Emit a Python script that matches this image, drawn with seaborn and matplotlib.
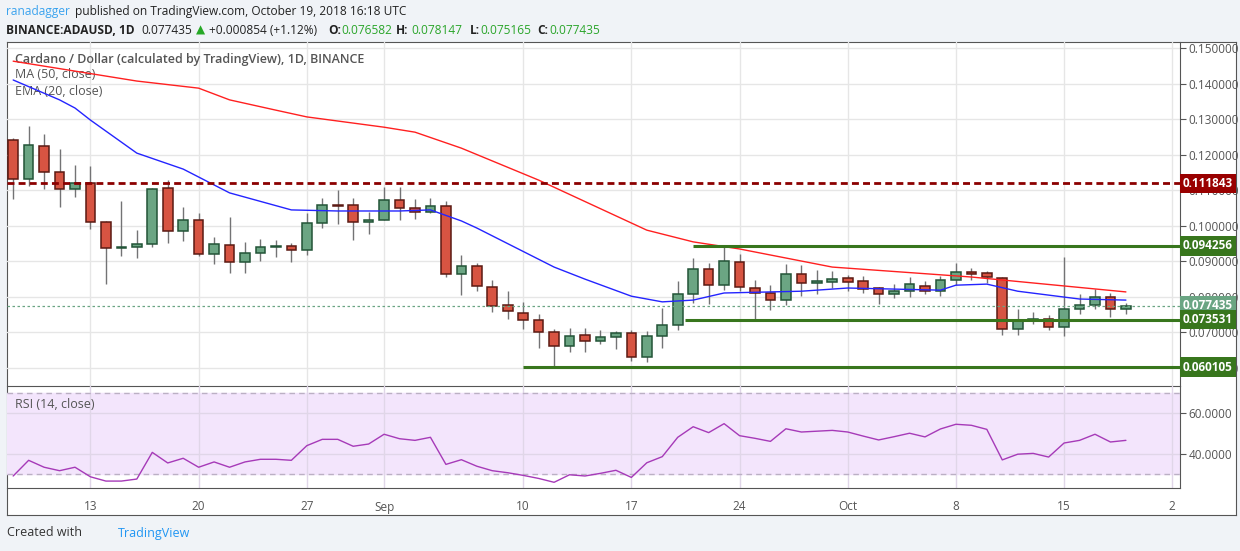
import numpy as np
import pandas as pd
import matplotlib
matplotlib.use("Agg")
import matplotlib.pyplot as plt
from matplotlib.patches import Rectangle
import seaborn as sns

# ---- data (ADAUSD daily, Aug 8 - Oct 19 2018) ----
opens = [0.1240, 0.1130, 0.1223, 0.1150, 0.1102, 0.1119, 0.1009, 0.0937, 0.0939, 0.0947,
         0.1105, 0.0984, 0.1015, 0.0919, 0.0944, 0.0896, 0.0922, 0.0939, 0.0942, 0.0930,
         0.1006, 0.1057, 0.1057, 0.1009, 0.1017, 0.1071, 0.1048, 0.1037, 0.1054, 0.0863,
         0.0885, 0.0826, 0.0775, 0.0755, 0.0733, 0.0699, 0.0660, 0.0693, 0.0674, 0.0685,
         0.0696, 0.0631, 0.0688, 0.0719, 0.0806, 0.0877, 0.0832, 0.0896, 0.0823, 0.0809,
         0.0789, 0.0863, 0.0837, 0.0842, 0.0852, 0.0843, 0.0823, 0.0806, 0.0815, 0.0831,
         0.0815, 0.0846, 0.0868, 0.0865, 0.0851, 0.0708, 0.0731, 0.0736, 0.0713, 0.0764,
         0.0775, 0.0798, 0.076582]
closes = [0.1130, 0.1227, 0.1151, 0.1102, 0.1119, 0.1009, 0.0936, 0.0940, 0.0947, 0.1102,
          0.0986, 0.1015, 0.0919, 0.0947, 0.0896, 0.0922, 0.0939, 0.0942, 0.0930, 0.1006,
          0.1057, 0.1055, 0.1009, 0.1017, 0.1071, 0.1048, 0.1037, 0.1054, 0.0863, 0.0885,
          0.0829, 0.0774, 0.0758, 0.0733, 0.0699, 0.0660, 0.0690, 0.0674, 0.0685, 0.0696,
          0.0631, 0.0688, 0.0719, 0.0806, 0.0877, 0.0832, 0.0899, 0.0826, 0.0809, 0.0789,
          0.0863, 0.0837, 0.0843, 0.0849, 0.0842, 0.0820, 0.0806, 0.0815, 0.0834, 0.0815,
          0.0846, 0.0868, 0.0864, 0.0854, 0.0708, 0.0731, 0.0736, 0.0713, 0.0764, 0.0775,
          0.0798, 0.0764, 0.077435]
highs = [0.1246, 0.1280, 0.1258, 0.1217, 0.1170, 0.1168, 0.1013, 0.1069, 0.0987, 0.1105,
         0.1128, 0.1052, 0.1034, 0.0968, 0.1024, 0.0953, 0.0961, 0.0959, 0.0950, 0.1035,
         0.1077, 0.1100, 0.1077, 0.1037, 0.1108, 0.1108, 0.1075, 0.1077, 0.1069, 0.0917,
         0.0894, 0.0846, 0.0815, 0.0786, 0.0752, 0.0708, 0.0710, 0.0710, 0.0705, 0.0702,
         0.0705, 0.0702, 0.0767, 0.0843, 0.0908, 0.0894, 0.0941, 0.0920, 0.0846, 0.0832,
         0.0893, 0.0890, 0.0874, 0.0872, 0.0861, 0.0858, 0.0828, 0.0835, 0.0855, 0.0844,
         0.0858, 0.0895, 0.0881, 0.0871, 0.0854, 0.0765, 0.0756, 0.0748, 0.0911, 0.0807,
         0.0822, 0.0811, 0.078147]
lows = [0.1076, 0.1112, 0.1104, 0.1053, 0.1081, 0.0991, 0.0834, 0.0915, 0.0909, 0.0940,
        0.0952, 0.0957, 0.0915, 0.0891, 0.0865, 0.0865, 0.0901, 0.0912, 0.0898, 0.0918,
        0.0994, 0.1005, 0.0960, 0.0977, 0.1015, 0.1017, 0.1019, 0.1034, 0.0854, 0.0805,
        0.0816, 0.0757, 0.0737, 0.0709, 0.0656, 0.0601, 0.0645, 0.0645, 0.0667, 0.0653,
        0.0619, 0.0616, 0.0654, 0.0706, 0.0783, 0.0780, 0.0819, 0.0815, 0.0736, 0.0761,
        0.0777, 0.0801, 0.0806, 0.0825, 0.0816, 0.0811, 0.0779, 0.0796, 0.0799, 0.0808,
        0.0802, 0.0833, 0.0847, 0.0837, 0.0692, 0.0692, 0.0723, 0.0706, 0.0689, 0.0752,
        0.0766, 0.0743, 0.075165]
rsi = [29.2, 36.9, 33.5, 31.8, 33.5, 28.8, 26.7, 26.7, 27.7, 40.8,
       35.6, 37.9, 33.5, 36.1, 33.5, 36.1, 37.4, 37.4, 36.9, 44.1,
       47.2, 47.2, 43.8, 44.9, 49.7, 47.5, 46.7, 48.2, 34.9, 37.2,
       34.0, 31.8, 30.8, 29.5, 28.0, 26.1, 29.8, 29.2, 30.5, 32.0,
       28.5, 35.7, 38.7, 48.2, 53.4, 50.5, 54.9, 49.0, 47.7, 46.2,
       52.4, 50.8, 51.2, 51.6, 50.8, 48.8, 46.9, 48.5, 50.2, 48.4,
       52.3, 54.6, 54.1, 52.1, 37.1, 39.9, 40.3, 38.5, 45.4, 46.7,
       49.7, 45.9, 46.7]

# moving averages, read at a number of days (day index from Aug 8)
ema_days = [0, 3, 4, 5, 8, 11, 14, 18, 21, 25, 27, 29, 30, 35, 37, 40, 42, 44, 46, 51, 54, 60, 61, 63, 65, 69, 72]
ema_vals = [0.1410, 0.1354, 0.1331, 0.1297, 0.1204, 0.1159, 0.1092, 0.1044, 0.1041, 0.1041, 0.1044,
            0.1013, 0.0993, 0.0883, 0.0849, 0.0801, 0.0785, 0.0790, 0.0810, 0.0815, 0.0824, 0.0818,
            0.0832, 0.0835, 0.0815, 0.0793, 0.0790]
ma_days = [0, 8, 12, 14, 17, 19, 24, 26, 29, 34, 41, 44, 47, 53, 62, 72]
ma_vals = [0.1463, 0.1407, 0.1387, 0.1354, 0.1325, 0.1306, 0.1277, 0.1263, 0.1218, 0.1128,
           0.0987, 0.0954, 0.0934, 0.0883, 0.0855, 0.0813]

tick_days = [5, 12, 19, 24, 33, 40, 47, 54, 61, 68, 75]
tick_labels = ["13", "20", "27", "Sep", "10", "17", "24", "Oct", "8", "15", "2"]

resistance = 0.111843
range_top, range_top_start = 0.094256, 44
range_bot, range_bot_start = 0.073531, 43.5
support, support_start = 0.060105, 33
last_price = 0.077435

df = pd.DataFrame({"day": np.arange(len(opens)), "open": opens, "high": highs,
                   "low": lows, "close": closes, "rsi": rsi})

# ---- figure ----
sns.set_style("white")
plt.rcParams["font.family"] = ["Open Sans", "DejaVu Sans"]
W, H = 1240, 551
fig = plt.figure(figsize=(12.4, 5.51), dpi=100, facecolor="#f0f3f7")

def fx(px):
    return px / W

def fy(py):
    return 1 - py / H

# white panel behind the charts (its own axes so it stays at the back)
bg = fig.add_axes([fx(7), fy(515), fx(1229), 473 / H], zorder=-5)
bg.set_xticks([])
bg.set_yticks([])
bg.set_facecolor("white")
for s in bg.spines.values():
    s.set_color("#555555")

ax = fig.add_axes([fx(7), fy(386), fx(1173), 344 / H])
axr = fig.add_axes([fx(7), fy(488), fx(1173), 102 / H], sharex=ax)

up_fill, up_edge = "#6ba583", "#225437"
dn_fill, dn_edge = "#d75442", "#5b1a13"
grid_c = "#e6e6e6"

# candles
for r in df.itertuples():
    up = r.close >= r.open
    ax.vlines(r.day, r.low, r.high, color="#737375", lw=1, zorder=2)
    bottom = min(r.open, r.close)
    height = max(abs(r.close - r.open), 0.00012)
    ax.bar(r.day, height, bottom=bottom, width=0.62,
           color=up_fill if up else dn_fill, edgecolor=up_edge if up else dn_edge,
           lw=1.1, zorder=3)

sns.lineplot(x=ema_days, y=ema_vals, ax=ax, color="#2424ff", lw=1, zorder=4)
sns.lineplot(x=ma_days, y=ma_vals, ax=ax, color="#ff2020", lw=1, zorder=4)

ax.axhline(resistance, color="#8b0000", lw=2, ls=(0, (2.5, 1.5)), zorder=5)
xmax = 75.5
ax.hlines([range_top, range_bot, support], [range_top_start, range_bot_start, support_start],
          xmax, color="#38761d", lw=2.2, zorder=5)
ax.axhline(last_price, color="#6aa583", lw=0.9, ls=(0, (2, 2)), zorder=5)

ax.set_xlim(-0.4, xmax)
ax.set_ylim(0.0548, 0.1517)
ax.set_yticks(np.arange(0.06, 0.151, 0.01))
ax.set_yticklabels([f"{v:.6f}" for v in np.arange(0.06, 0.151, 0.01)])
ax.yaxis.tick_right()
ax.tick_params(axis="y", length=4, color="#555555", labelsize=8.5, labelcolor="#555555", pad=2)
ax.tick_params(axis="x", length=0, labelbottom=False)
ax.set_xticks(tick_days)
ax.grid(True, color=grid_c, lw=1)
ax.set_axisbelow(True)
ax.set_xlabel("")
ax.set_ylabel("")
ax.patch.set_alpha(0)
for s in ["top", "left"]:
    ax.spines[s].set_visible(False)
ax.spines["right"].set_color("#555555")
ax.spines["bottom"].set_color("#555555")

ytr = ax.get_yaxis_transform()
for val, col in [(resistance, "#990000"), (range_top, "#38761d"), (last_price, "#6aa583"),
                 (range_bot, "#38761d"), (support, "#38761d")]:
    ax.text(1.0025, val, f"{val:.6f}", transform=ytr, ha="left", va="center", fontsize=8.5,
            fontweight="bold", color="white", zorder=10, clip_on=False,
            bbox=dict(boxstyle="square,pad=0.28", facecolor=col, edgecolor="none"))

ax.text(8 / 1173, 0.94, "Cardano / Dollar (calculated by TradingView), 1D, BINANCE",
        transform=ax.transAxes, fontsize=9, color="#555555", fontweight="semibold")
ax.text(8 / 1173, 0.895, "MA (50, close)", transform=ax.transAxes, fontsize=9, color="#555555")
ax.text(8 / 1173, 0.845, "EMA (20, close)", transform=ax.transAxes, fontsize=9, color="#555555")

# RSI panel
axr.axhspan(30, 70, color="#f3e5fc", zorder=0)
for lvl in (30, 70):
    axr.axhline(lvl, color="#bbb0c4", lw=1, ls=(0, (4, 3)), zorder=1)
sns.lineplot(data=df, x="day", y="rsi", ax=axr, color="#a63ab8", lw=1, zorder=3)
axr.set_ylim(23.3, 73.4)
axr.set_yticks([40, 60])
axr.set_yticklabels(["40.0000", "60.0000"])
axr.yaxis.tick_right()
axr.tick_params(axis="y", length=4, color="#555555", labelsize=8.5, labelcolor="#555555", pad=2)
axr.set_xticks(tick_days)
axr.set_xticklabels(tick_labels)
axr.tick_params(axis="x", length=0, labelsize=8.5, labelcolor="#555555", pad=9)
axr.grid(True, color="#e0d6e8", lw=1)
axr.set_axisbelow(True)
axr.set_xlabel("")
axr.set_ylabel("")
axr.patch.set_alpha(0)
axr.spines["top"].set_visible(False)
axr.spines["left"].set_visible(False)
axr.spines["right"].set_color("#555555")
axr.spines["bottom"].set_color("#555555")
axr.text(8 / 1173, 0.78, "RSI (14, close)", transform=axr.transAxes, fontsize=9, color="#555555")

# header
hdr = [(6, 12, "ranadagger", "#3ba3ee", "normal"),
       (75, 12, "published on TradingView.com, October 19, 2018 16:18 UTC", "#222222", "normal"),
       (6, 30, "BINANCE:ADAUSD, 1D", "#222222", "bold"),
       (141, 30, "0.077435", "#222222", "normal"),
       (196, 30, "\u25b2", "#26a826", "normal"),
       (209, 30, "+0.000854 (+1.12%)", "#222222", "normal"),
       (328, 30, "O:", "#222222", "bold"), (341, 30, "0.076582", "#2aa52a", "normal"),
       (396, 30, "H:", "#222222", "bold"), (411, 30, "0.078147", "#2aa52a", "normal"),
       (470, 30, "L:", "#222222", "bold"), (480, 30, "0.075165", "#2aa52a", "normal"),
       (537, 30, "C:", "#222222", "bold"), (549, 30, "0.077435", "#2aa52a", "normal")]
for x, y, s, c, w in hdr:
    fig.text(fx(x), fy(y), s, color=c, fontweight=w, fontsize=8.6, va="center", ha="left")

fig.text(fx(7), fy(533), "Created with", fontsize=9, color="#333333", va="center")
fig.text(fx(118), fy(533), "TradingView", fontsize=9, color="#2196f3", va="center")

fig.savefig("out.png", dpi=100, facecolor=fig.get_facecolor())
